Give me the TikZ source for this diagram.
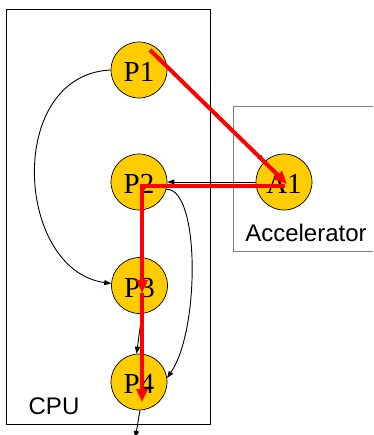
\documentclass[tikz,border=0pt]{standalone}
\usepackage{fontspec}
\setmainfont{Liberation Serif}
\setsansfont{Liberation Sans}
\usetikzlibrary{arrows.meta}
\definecolor{gold}{HTML}{FFCC00}
\begin{document}
\begin{tikzpicture}[x=1pt,y=-1pt,
  proc/.style={circle,draw=black,line width=0.7pt,fill=gold,minimum size=56pt,inner sep=0pt,
    font=\fontsize{29}{30}\selectfont,text height=23pt,text depth=0pt},
  lbl/.style={inner sep=0pt,font=\sffamily\fontsize{24}{26}\selectfont},
  blk/.style={draw=black,line width=0.9pt,-{Triangle[length=7pt,width=5pt]}},
  crit/.style={draw=red,line width=4pt,line join=miter,-{Triangle[length=13pt,width=11pt]}},
  cpubox/.style={draw=black,line width=0.9pt},
  accbox/.style={draw=gray,line width=1pt}]
\useasboundingbox (0,0) rectangle (373,435);
\clip (0,0) rectangle (373,435);
\fill[white] (0,0) rectangle (373,435);
% boxes
\draw[cpubox] (6,9) rectangle (210,424);
\draw[accbox] (233,107) rectangle (380,251);
\node[lbl] (cpu) at (54,406) {CPU};
\node[lbl] (acc) at (306,233) {Accelerator};
% processes
\node[proc] (P1) at (139,70) {P1};
\node[proc] (P2) at (139,182) {P2};
\node[proc] (P3) at (139.5,285.5) {P3};
\node[proc] (P4) at (139,382) {P4};
\node[proc] (A1) at (284,182) {A1};
% black dependencies
\coordinate (out) at (135.3,438);
\draw[blk] (P1.180) .. controls (5,75) and (15,270) .. (P3.176);
\draw[blk] (P1.7) -- (A1.134);
\draw[blk] (A1.180) -- (P2.0);
\draw[blk] (P2.-15) .. controls (200,188) and (200,330) .. (P4.8);
\draw[blk] (P3.-85) -- (P4.95);
\draw[blk] (P4.-88) -- (out);
% critical path
\coordinate (r0) at (150,50);
\coordinate (r1) at (287,184);
\coordinate (ra) at (285,186);
\coordinate (rc) at (142,186);
\coordinate (r3) at (142,293);
\coordinate (r4) at (142,402);
\draw[crit] (r0) -- (r1);
\draw[crit] (ra) -- (rc) -- (r3);
\draw[crit] (r3) -- (r4);
\end{tikzpicture}
\end{document}
